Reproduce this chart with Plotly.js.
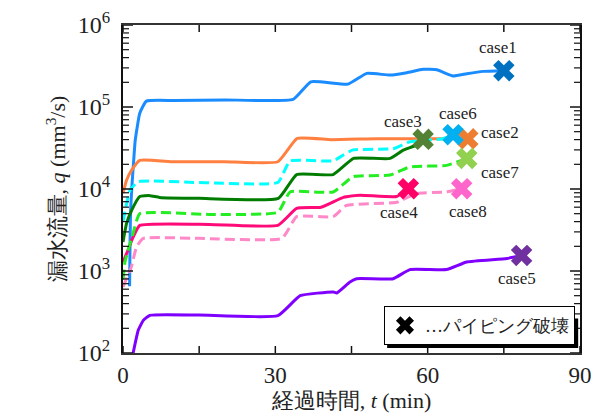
<!DOCTYPE html>
<html><head><meta charset="utf-8">
<script src="https://cdn.plot.ly/plotly-3.0.1.min.js"></script>
<style>html,body{margin:0;padding:0;background:#fff}#chart{width:603px;height:416px}</style>
</head><body><div id="chart"></div>
<script>
const caseNames = ["case1","case2","case3","case4","case5","case6","case7","case8"];
const t1 = [1.3, 1.4, 1.5, 1.8, 2.1, 2.4, 3.3, 4.6, 10, 20, 33.5, 37, 44.3, 48, 52.6, 55.9, 59.1, 61.8, 65, 67.7, 70.9, 75];
const q1 = [650, 2500, 5500, 12000, 22000, 39000, 84000, 118000, 120000, 122000, 124000, 203000, 190000, 257000, 245000, 262000, 288000, 285000, 239000, 255000, 272000, 277000];
const t2 = [0, 0.7, 1.7, 3.3, 10, 20, 30.5, 34.3, 41, 50, 60, 67.9];
const q2 = [8900, 12800, 17000, 22400, 21500, 21500, 21500, 41400, 40000, 41000, 41000, 41000];
const t3 = [0, 0.7, 1.7, 3.3, 5.3, 7.2, 15, 30.6, 34.2, 41.4, 45.4, 52.6, 55.2, 57.8, 59.1];
const q3 = [2260, 3800, 5500, 8100, 8300, 7900, 7700, 7700, 15000, 15000, 23600, 23600, 29800, 34300, 40300];
const t4 = [0, 1, 2, 3.3, 17, 30.5, 34.2, 39, 43.4, 46.7, 53.9, 56.2];
const q4 = [1290, 1800, 2600, 3600, 3700, 3600, 5800, 6000, 7900, 8400, 8100, 10100];
const t5 = [2.0, 3.0, 4.0, 5.3, 15, 30.5, 34.9, 41.4, 42.1, 44.7, 46, 53.2, 56.5, 63.7, 67.7, 75.6, 78.5];
const q5 = [100, 189, 250, 288, 290, 285, 500, 555, 540, 735, 805, 805, 1040, 1040, 1290, 1420, 1550];
const t6 = [0, 0.7, 1.4, 3.0, 15, 30.5, 32.9, 41.4, 43.4, 45.3, 53.2, 56.5, 63, 65];
const q6 = [4000, 6600, 9700, 12300, 12000, 12000, 22000, 22000, 26000, 30000, 31000, 37700, 41000, 46000];
const t7 = [0, 0.4, 2.0, 3.3, 17, 30.5, 32.9, 41.4, 45.3, 52.6, 56.5, 63.7, 67.7];
const q7 = [780, 1300, 2900, 5000, 4900, 5200, 9200, 9200, 14100, 14800, 18600, 19400, 23600];
const t8 = [0, 1.6, 2.7, 4.0, 15, 31.3, 34.2, 41.4, 44, 53.9, 57.8, 63.7, 66.7];
const q8 = [640, 1100, 2000, 2500, 2500, 2500, 4600, 4600, 6300, 6900, 8800, 9200, 10100];
const breakT = [75, 67.9, 59.1, 56.2, 78.5, 65, 67.7, 66.7];
const breakQ = [277000, 41000, 40300, 10100, 1550, 46000, 23600, 10100];
const xTickVals = [0, 30, 60, 90];
const xMinorVals = [15, 45, 75];
const yTickVals = [100, 1000, 10000, 100000, 1000000];
const yTickText = ["10<sup>2</sup>","10<sup>3</sup>","10<sup>4</sup>","10<sup>5</sup>","10<sup>6</sup>"];
const yMinorVals = [];
for (const d of [100,1000,10000,100000]) for (let k=2;k<=9;k++) yMinorVals.push(d*k);
const legendLabel = "…パイピング破壊";

const ts = [t1,t2,t3,t4,t5,t6,t7,t8];
const qs = [q1,q2,q3,q4,q5,q6,q7,q8];
const lineColors = ["#1a8cff","#ff8040","#007d00","#ff0a78","#8000ff","#00ffff","#22ee22","#ff88c8"];
const markColors = ["#0070c0","#ed7d31","#548235","#ff0066","#7030a0","#00b0f0","#92d050","#ff66cc"];
const dashed = [false,false,false,false,false,true,true,true];
const labelShift = [[-6,23],[32,6],[-20,18],[-9,-24],[-5,-23],[5,21],[33,-14],[6,-23]];

const serif = "Liberation Serif";
const data = [];
for (let i=0;i<8;i++){
  data.push({x:ts[i], y:qs[i], type:'scatter', mode:'lines', showlegend:false,
    line:{color:lineColors[i], width:3, shape:'spline', smoothing:0.4, dash: dashed[i] ? '10px,5px' : 'solid'}});
}
for (let i=0;i<8;i++){
  data.push({x:[breakT[i]], y:[breakQ[i]], type:'scatter', mode:'markers', showlegend:false,
    marker:{symbol:'x', size:19, color:markColors[i], line:{width:0}}});
}
data.push({x:[null], y:[null], type:'scatter', mode:'markers', name:legendLabel, showlegend:true,
  marker:{symbol:'x', size:19, color:'#000', line:{width:0}}});

const annotations = caseNames.map((n,i)=>({x:breakT[i], y:Math.log10(breakQ[i]), xref:'x', yref:'y',
  text:'<span style="font-family:Liberation Serif">'+n+'</span>', showarrow:false,
  xshift:labelShift[i][0], yshift:labelShift[i][1],
  font:{family:serif, size:17, color:'#222'}}));

// axis tick marks (inside, mirrored) as pixel-sized shapes anchored on the axes
const tickCol = '#111';
const shapes = [];
function yTick(v, len, w){
  shapes.push({type:'line', xref:'paper', xsizemode:'pixel', xanchor:0, x0:0, x1:len, yref:'y', y0:v, y1:v, line:{color:tickCol, width:w}, layer:'above'});
  shapes.push({type:'line', xref:'paper', xsizemode:'pixel', xanchor:1, x0:0, x1:-len, yref:'y', y0:v, y1:v, line:{color:tickCol, width:w}, layer:'above'});
}
function xTick(v, len, w){
  shapes.push({type:'line', xref:'x', x0:v, x1:v, yref:'paper', ysizemode:'pixel', yanchor:0, y0:0, y1:len, line:{color:tickCol, width:w}, layer:'above'});
  shapes.push({type:'line', xref:'x', x0:v, x1:v, yref:'paper', ysizemode:'pixel', yanchor:1, y0:0, y1:-len, line:{color:tickCol, width:w}, layer:'above'});
}
yTickVals.forEach(v=>yTick(v, 10, 1.5));
yMinorVals.forEach(v=>yTick(v, 6, 1.2));
xTickVals.forEach(v=>xTick(v, 7, 1.5));
xMinorVals.forEach(v=>xTick(v, 7, 1.5));
shapes.push({type:'rect', xref:'paper', yref:'paper', x0:0.578, x1:0.996, y0:0.015, y1:0.105,
    fillcolor:'#000', line:{width:0}, layer:'above'});

const layout = {
  width:603, height:416,
  margin:{l:123, r:23, t:25, b:63},
  paper_bgcolor:'#fff', plot_bgcolor:'#fff',
  font:{family:serif, color:'#222'},
  xaxis:{range:[0,90], tickvals:xTickVals, ticks:'', 
    showline:true, linecolor:'#333', linewidth:2, mirror:true, showgrid:false, zeroline:false,
    tickfont:{family:serif, size:23, color:'#222'},
    title:{text:'経過時間, <i>t</i> (min)', font:{family:serif, size:22, color:'#222'}, standoff:2}},
  yaxis:{type:'log', range:[2,6], tickvals:yTickVals, ticktext:yTickText, ticks:'',
    showline:true, linecolor:'#111', linewidth:2, mirror:true, showgrid:false, zeroline:false,
    tickfont:{family:serif, size:24, color:'#222'}, ticklabelstandoff:6,
    title:{text:'漏水流量, <i>q</i> (mm<sup>3</sup>/s)', font:{family:serif, size:22, color:'#222'}, standoff:6}},
  showlegend:true,
  legend:{x:0.989, y:0.024, xanchor:'right', yanchor:'bottom', bgcolor:'#fff', bordercolor:'#000', borderwidth:1,
    font:{family:serif, size:18, color:'#222'}, itemwidth:30},
  shapes:shapes,
  annotations:annotations
};
Plotly.newPlot('chart', data, layout, {staticPlot:true});
</script></body></html>
